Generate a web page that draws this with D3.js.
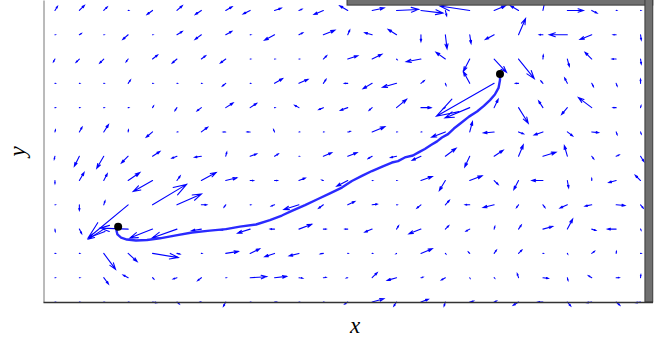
<!DOCTYPE html>
<html>
<head>
<meta charset="utf-8">
<script src="https://cdn.jsdelivr.net/npm/d3@7/dist/d3.min.js"></script>
<style>
  body { margin: 0; background: #fff; }
</style>
</head>
<body>
<svg id="quiver" width="665" height="341"></svg>
<script>
// grid: 25 columns (x = 0..24), 13 rows (y = 12 at top down to 0)
const nCols = 25;
const nRows = 13;

// velocity components per row, top row first
const uRows = [
  [2.5, 5, 3.5, 0.5, -5.5, 5.3, -6, 6.3, -7, 6.7, 3, -9.3, -8, 12, 22, 22, 1.3, -29.8, 11.3, -8, 2.3, 16, 5.3, 0.5, 0.3],
  [0.3, 2, 0.3, -5.3, 0.3, 5.3, -6.3, 6, 0.7, -10, 3.8, 11.5, 2, -7.3, -8.3, 0, 1.7, 1.3, -8.7, 7, -3.5, -18, -11.7, -3, 0.7],
  [-1.5, -3.3, -4, -2, 5, -4.7, 4.3, -5.3, 0.5, 0.5, 0.5, 3.3, 10, 9.7, 0.5, -14.7, -9.3, -6.3, 12.3, 15.7, 0.3, 2, -6.7, -4, 0.7],
  [0.3, 0.3, 0.3, 2.3, 0.3, 0.3, 0.3, -3.3, 0.3, 8, 9, 2.7, -3.3, -9, -14, 3.3, 0.7, -6.3, -57.7, -3, -2, -2.7, 1.7, 1, 0],
  [0.3, 0.3, 0.3, 0.5, 1, -2, -4.3, 7.3, 6.5, 0.3, -4.2, -4.5, -7.3, -3, 10, 10.3, -2, -24.7, 4, 9.7, -4.3, -5.7, -13.3, -3, 0.5],
  [0.5, 2.7, 4.7, 0.3, -6.3, 0.5, 6.3, -2.5, -3, -1, 0.3, 0.3, 2.5, 12.7, 0.3, 0.3, -13.7, 2.7, -10.7, 5, -8.7, 5.3, 6.7, 1, 0.7],
  [-0.7, -5, -7, -6.7, 7.3, -5, -6.7, 1, 6.5, 3.7, 0.3, 8.3, 9.3, -4, -6, -8.7, 10.7, -5, 9, 4.7, 13, -3, 2, 3, 3.3],
  [0, 4.7, 3.5, 11.7, -19.3, 3.2, 14.7, 11, 3.3, 3, 6.3, -1.5, -11, 0.5, 0.3, 11.3, -6, 12.3, 4, -4.7, -11, 1.3, 0, -7.3, -5.3],
  [0.3, 0, 1.3, -40, 34, 24.5, 5.3, -1.7, 0.5, -3.3, -15, -4.7, 7, 5, 0.5, -4, 4, -4.5, -11, -2, 2, -7.3, -6.7, 8.7, 2.7],
  [0.3, 2.3, -15.3, -28, -22.7, -25, -9.7, -5, -12.5, -4.3, 12.7, 2.7, -2.7, -7.3, 2, -12, 3.3, -3.7, 0.7, 2.7, 9.7, 5.3, 4, -8.7, 0.5],
  [0.3, 0.3, 11.8, 9, 25.7, 3, 0.5, 12.7, 9.5, -9.7, -9.7, -3, 0.3, 0.3, -0.5, 11.3, 0.5, -1.3, 2.3, 3.3, 0.3, 0.3, 2.7, 0.3, 0.5],
  [0.3, 0.5, 4.7, -5, 1.3, -3.7, -3.7, 0.5, 16.5, 12, 3.7, 2.7, -1.3, 5, -9.3, 2, -4, 0.3, 0.5, -1.3, 5.3, 0.7, -3.3, 3, 0.3],
  [0.3, 0.3, 0.3, 0.5, 4, 2.3, -1, -2.3, 0.3, 2, 0.3, 0.3, -3, 11.7, -2.7, 7.3, -1.3, 3.7, 2.3, -5.3, -5, 3.3, -5, 3.7, -4.7]
];
const vRows = [
  [4, 5, 3.5, 0, -4, 4.7, -4, 3.7, -3.5, 2.3, 1.3, -4, 4.7, 2.5, 1, -2.7, -5.3, 4.5, 4.7, 4.7, 11, 0, -2.7, 0, 0],
  [0, 1.3, 0, -4.7, 0, 3.3, -4.7, 3.3, 0, -5.5, 2, 4.5, 4.7, 2, 5.3, -6.7, -14, -8.7, -4.7, 16.3, 0, 0, -4.7, 0, -5.3],
  [-2.7, -3.3, -4, -2.7, 4, -4, 3.3, -4, 0, 0, 0, 3.3, 3.3, 4.7, -0.5, -2.7, 6.7, -12.3, -13.3, -19.7, 4, -7.3, 6.7, 0, -5],
  [0, 0, 0, 3.3, 0, 0, 0, -2.7, 0, 4.7, 4, 4, 0, -5.3, -4, 2.7, -2, 11.7, -33, 0, 2.3, 5.3, -3.3, -2.7, 4],
  [0, 0, 0, 0, 1.7, -3, -3.3, 4.7, 4.3, 0, 2.3, -2, -2.7, -2.7, 8.3, 0, -1, -10.3, 8.3, -15.7, 6.7, -6.7, 10, 0, 2],
  [2, 4.7, 7.3, 2, -5.3, 0, 4.7, 0, 0, 2.3, 0, 0, 0.5, 5.3, 0, 0, -5.3, 10.3, -1, -2, -3, -4, -0.7, -2.7, -2],
  [-3, -10, -12, -6.7, 4.7, -2, -1, 4, 2.3, 2.3, 0, 3.5, 3.5, -2.3, -1.3, -4, 8, -10.7, 6, 11.3, 4, 10.7, -2.7, 1.3, -5.3],
  [-3, 8, 6.7, 8, -11, 4.5, 8, 2.7, 0, 0, 2.5, 0.5, -5.7, 0, 0, 4, -10, 4.7, -4, -9, 0, -7.3, 2, -2, 5.3],
  [0, -5.5, 4, -33.3, 20.5, 10.8, 0, -2.3, 0, -1.3, -4.7, -3.5, 3.3, 0.7, 0, -3.3, 4.5, 0, -2.7, -2.7, -2.7, -3.3, -1.3, -0.7, -3.3],
  [-2.5, -4.5, -10, 1, -9, -9, -1.7, -1, -4, 0, 4.8, 0, 0, -3, 3.3, -4.7, 3.3, -2, 2.7, 4, 2.7, 10, -1.3, 0, -1],
  [0, 0, -16, -8.2, -4.2, -0.7, 0, 2, 4.7, -3.3, -2.5, -0.5, 0, 0, -0.3, 4.7, -0.5, 1.3, 3.3, 3.3, 0, -0.5, 2, 2, 0],
  [0, 0, -6.3, 2.7, -1.3, -1.3, -3, 0, 1, 1.3, -0.5, 0.3, -0.3, 5, -2.7, 0.5, -2.3, -0.5, -0.5, 4, -0.7, -2.7, 2, 0, 3],
  [0, 0, 0, 0, -0.7, -2, 0, -4.3, 0, 0, 0, 0, -2, 3.3, -4, 2.7, -4, 1, 1, -3.3, 0, -4, -0.7, -3.3, -0.7]
];

// trajectory (grid units)
const pathX = [2.59, 2.52, 2.56, 2.71, 2.95, 3.32, 3.77, 4.30, 4.96, 5.62, 6.35, 7.01, 7.58, 8.24, 8.81, 9.30, 9.71, 10.25, 10.78, 11.27, 11.76, 12.17, 12.58, 12.99, 13.44, 13.81, 14.06, 14.34, 14.67, 14.92, 15.16, 15.41, 15.66, 15.86, 16.11, 16.35, 16.64, 16.97, 17.30, 17.58, 17.83, 18.03, 18.18, 18.24, 18.24];
const pathY = [3.10, 2.94, 2.78, 2.65, 2.57, 2.53, 2.55, 2.62, 2.74, 2.86, 2.94, 3.00, 3.10, 3.19, 3.37, 3.56, 3.75, 3.99, 4.24, 4.47, 4.71, 4.98, 5.19, 5.39, 5.58, 5.74, 5.80, 5.95, 6.03, 6.17, 6.30, 6.46, 6.61, 6.77, 6.91, 7.14, 7.37, 7.63, 7.84, 8.07, 8.31, 8.54, 8.81, 9.14, 9.38];

// start and end markers
const markerX = [2.59, 18.24];
const markerY = [3.10, 9.38];

// walls: [x0, x1, y0, y1]
const walls = [
  [11.97, 24.5, 12.22, 12.7],
  [24.18, 24.5, 0, 12.7]
];

const quiverScale = 0.041;

const svg = d3.select("#quiver");
const x = d3.scaleLinear().domain([-0.49, 24.49]).range([43, 652.5]);
const y = d3.scaleLinear().domain([0, 12.43]).range([302, 0]);

// arrows
const alpha = 0.33, beta = 0.33;
const arrows = [];
uRows.forEach((row, r) => {
  row.forEach((u, c) => {
    const v = vRows[r][c];
    const gy = nRows - 1 - r;
    const x0 = x(c), y0 = y(gy);
    const x1 = x(c + u * quiverScale), y1 = y(gy + v * quiverScale);
    const du = x1 - x0, dv = y1 - y0;
    const h1x = x1 - alpha * (du + beta * dv), h1y = y1 - alpha * (dv - beta * du);
    const h2x = x1 - alpha * (du - beta * dv), h2y = y1 - alpha * (dv + beta * du);
    arrows.push(`M${x0},${y0}L${x1},${y1}M${h1x},${h1y}L${x1},${y1}L${h2x},${h2y}`);
  });
});

svg.append("g")
  .selectAll("path")
  .data(arrows)
  .join("path")
  .attr("d", (d) => d)
  .attr("fill", "none")
  .attr("stroke", "#0000ff")
  .attr("stroke-width", 1.1)
  .attr("stroke-linecap", "round");

// trajectory
const line = d3.line()
  .x((d, i) => x(pathX[i]))
  .y((d, i) => y(pathY[i]));

svg.append("path")
  .datum(pathX)
  .attr("d", line)
  .attr("fill", "none")
  .attr("stroke", "#2a2aff")
  .attr("stroke-width", 2.4)
  .attr("stroke-linejoin", "round");

svg.selectAll("circle.marker")
  .data(markerX)
  .join("circle")
  .attr("class", "marker")
  .attr("cx", (d) => x(d))
  .attr("cy", (d, i) => y(markerY[i]))
  .attr("r", 4)
  .attr("fill", "#000");

// walls
svg.selectAll("rect.wall")
  .data(walls)
  .join("rect")
  .attr("class", "wall")
  .attr("x", (d) => x(d[0]))
  .attr("y", (d) => y(d[3]))
  .attr("width", (d) => x(d[1]) - x(d[0]))
  .attr("height", (d) => y(d[2]) - y(d[3]))
  .attr("fill", "#707070")
  .attr("stroke", "#3a3a3a")
  .attr("stroke-width", 1);

// axes (no ticks)
svg.append("g")
  .attr("transform", "translate(43.5,0)")
  .call(d3.axisLeft(y).tickValues([]).tickSizeOuter(0))
  .select(".domain").attr("stroke", "#777");

svg.append("g")
  .attr("transform", "translate(0,302)")
  .call(d3.axisBottom(x).tickValues([]).tickSizeOuter(0))
  .select(".domain").attr("stroke", "#333").attr("stroke-width", 1.4);

// labels
svg.append("text")
  .attr("x", 355)
  .attr("y", 333)
  .attr("text-anchor", "middle")
  .style("font-family", "'Liberation Serif', serif")
  .style("font-style", "italic")
  .style("font-size", "23px")
  .text("x");

svg.append("text")
  .attr("transform", "translate(25,151.5) rotate(-90)")
  .attr("text-anchor", "middle")
  .style("font-family", "'Liberation Serif', serif")
  .style("font-style", "italic")
  .style("font-size", "23px")
  .text("y");
</script>
</body>
</html>
